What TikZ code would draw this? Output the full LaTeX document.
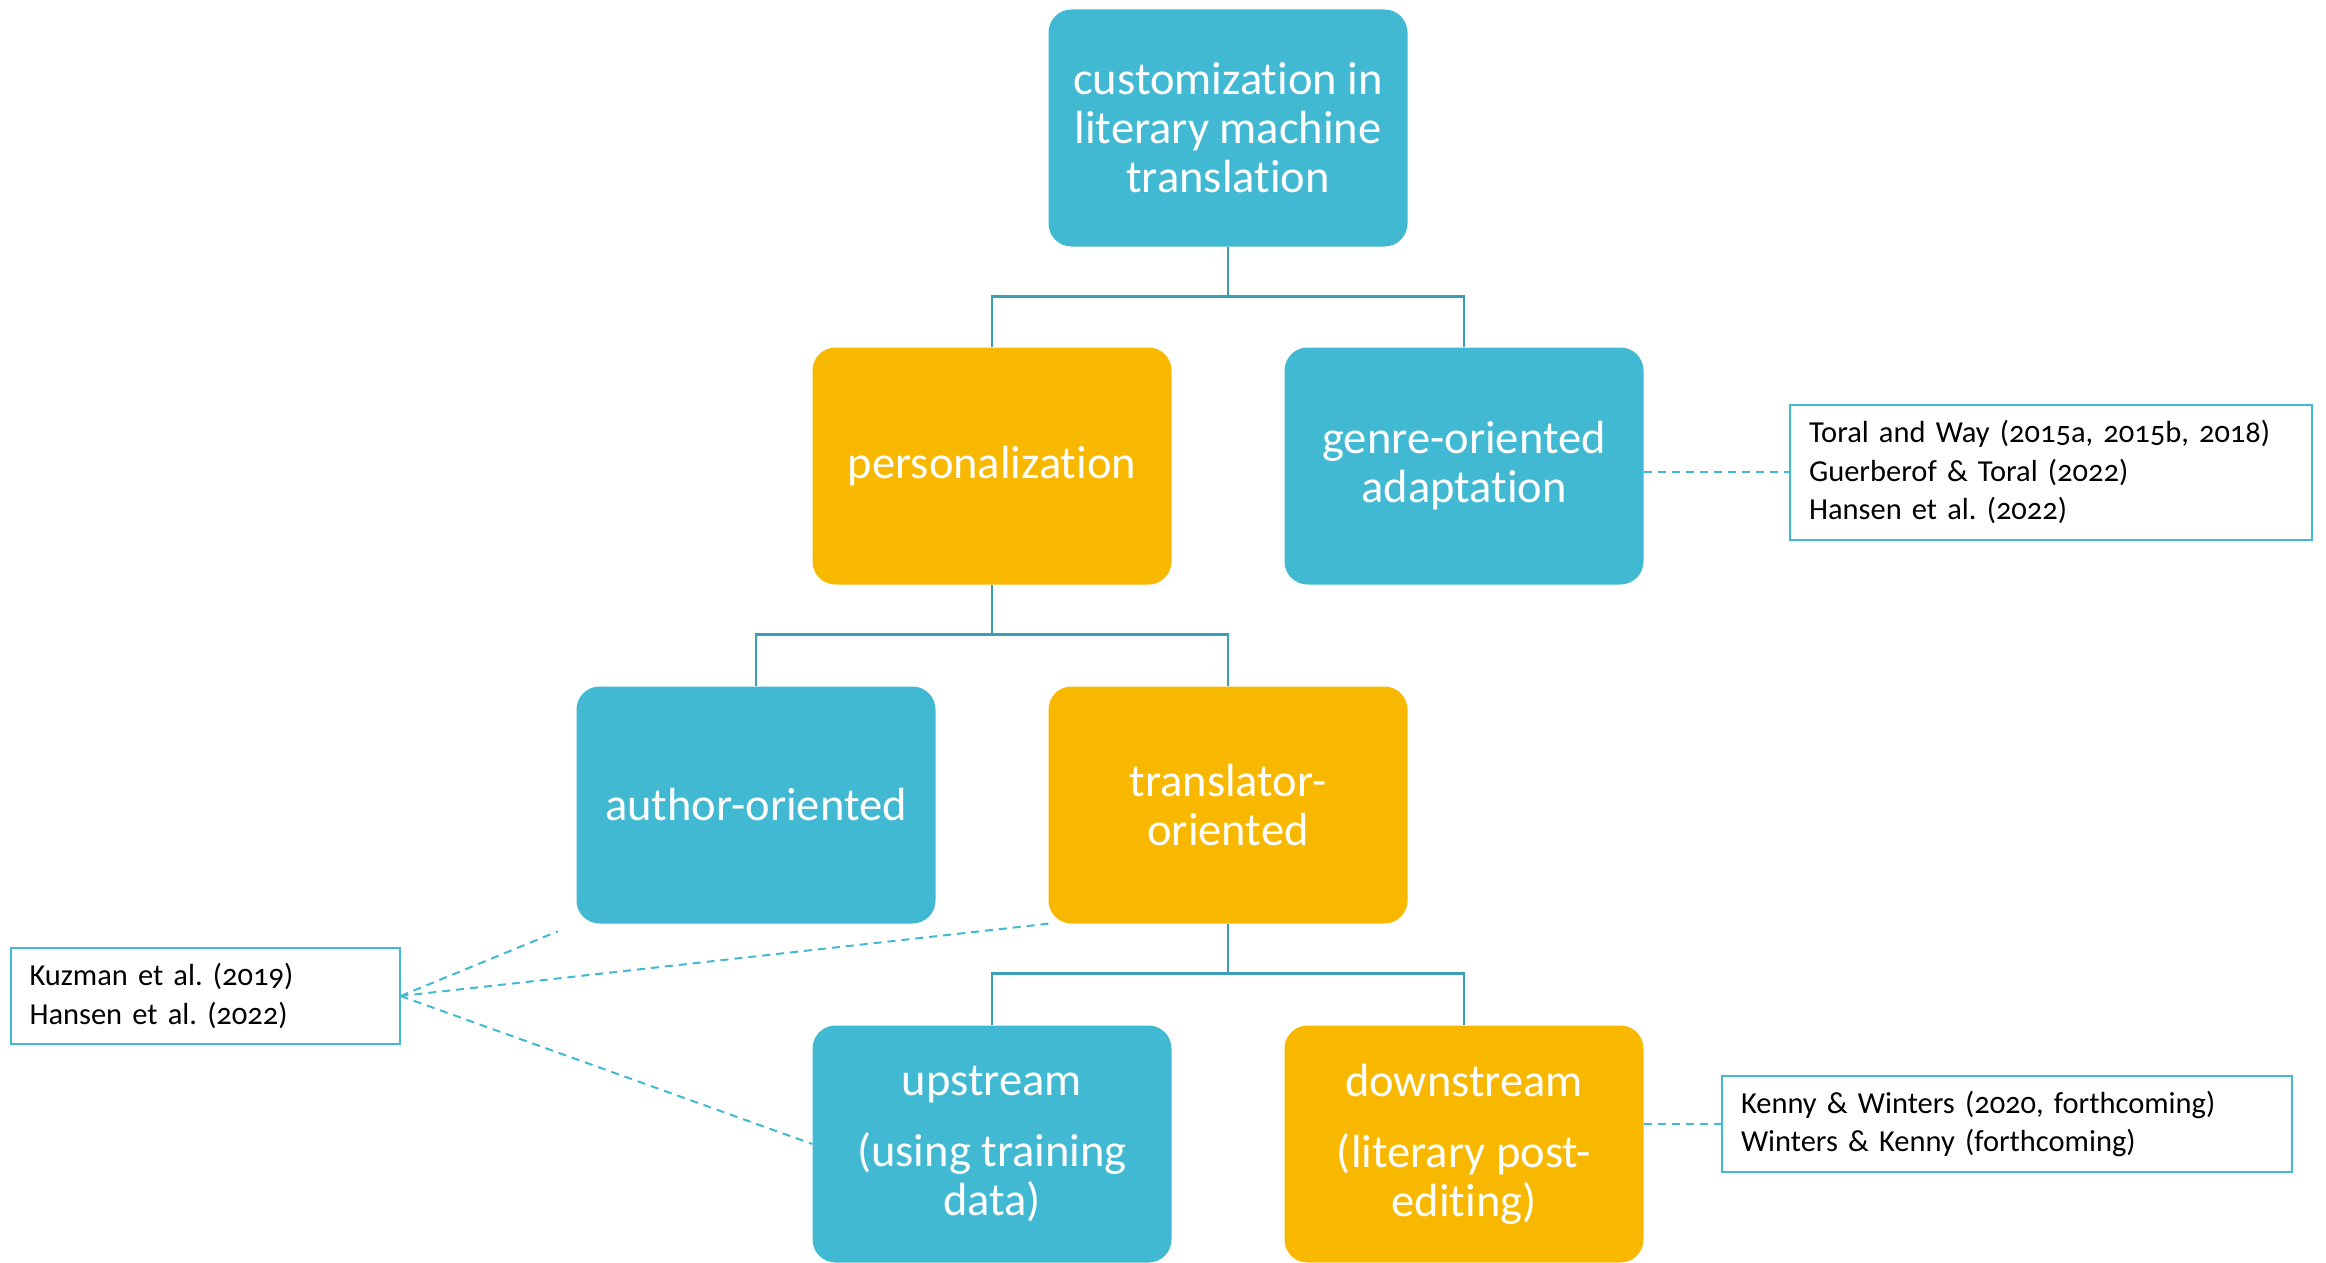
\documentclass[tikz,border=0pt]{standalone}
\usepackage{fontspec}
\setmainfont{Carlito}[Numbers=OldStyle,Ligatures=NoCommon]
\usepackage{xcolor}
\usepackage{tikz}

\definecolor{boxblue}{HTML}{42B9D3}
\definecolor{boxyellow}{HTML}{F9B800}
\definecolor{treeline}{HTML}{3A9EB6}

\tikzset{
  box/.style={rectangle,rounded corners=23pt,minimum width=359pt,minimum height=237pt,
    inner sep=0pt,align=center,text=white,font=\fontsize{46.5}{49}\selectfont},
  bluebox/.style={box,fill=boxblue},
  yellowbox/.style={box,fill=boxyellow},
  refbox/.style={rectangle,draw=boxblue,line width=2pt,fill=white,align=left,
    inner xsep=19pt,inner ysep=0pt,font=\fontsize{30.5}{38.6}\selectfont},
  tree/.style={draw=treeline,line width=2.5pt},
  refline/.style={draw=boxblue,line width=2pt,dash pattern=on 8pt off 6pt},
}

\begin{document}
\begin{tikzpicture}[x=1pt,y=-1pt]
\useasboundingbox (0,0) rectangle (2326,1263);

\node (1) at (1228,128) [bluebox] {customization in\\literary machine\\translation};
\node (2) at (992,466) [yellowbox] {personalization};
\node (3) at (1464,466) [bluebox] {genre-oriented\\adaptation};
\node (4) at (756,805) [bluebox] {author-oriented};
\node (5) at (1228,805) [yellowbox] {translator-\\oriented};
\node (6) at (992,1144) [bluebox] {upstream\\[22pt](using training\\data)};
\node (7) at (1464,1144) [yellowbox] {downstream\\[22pt](literary post-\\editing)};

\node (8) at (205,996) [refbox,text width=351pt,minimum height=96pt]
  {Kuzman et al.\ (2019)\\Hansen et al.\ (2022)};
\node (9) at (2051,472) [refbox,text width=484pt,minimum height=135pt]
  {Toral and Way (2015a, 2015b, 2018)\\Guerberof \& Toral (2022)\\Hansen et al.\ (2022)};
\node (10) at (2007,1124) [refbox,text width=532pt,minimum height=96pt]
  {Kenny \& Winters (2020, forthcoming)\\Winters \& Kenny (forthcoming)};

\draw[tree] (1.south) -- ++(0,50) coordinate (j1);
\draw[tree] (2.north) |- (j1) -| (3.north);
\draw[tree] (2.south) -- ++(0,50) coordinate (j2);
\draw[tree] (4.north) |- (j2) -| (5.north);
\draw[tree] (5.south) -- ++(0,50) coordinate (j3);
\draw[tree] (6.north) |- (j3) -| (7.north);

\draw[refline] (3.east |- 9.west) -- (9.west);
\draw[refline] (7.east |- 10.west) -- (10.west);
\draw[refline,shorten >=20pt] (8.east) -- (4.south west);
\draw[refline] (8.east) -- (5.south west);
\draw[refline] (8.east) -- (6.west);
\end{tikzpicture}
\end{document}
